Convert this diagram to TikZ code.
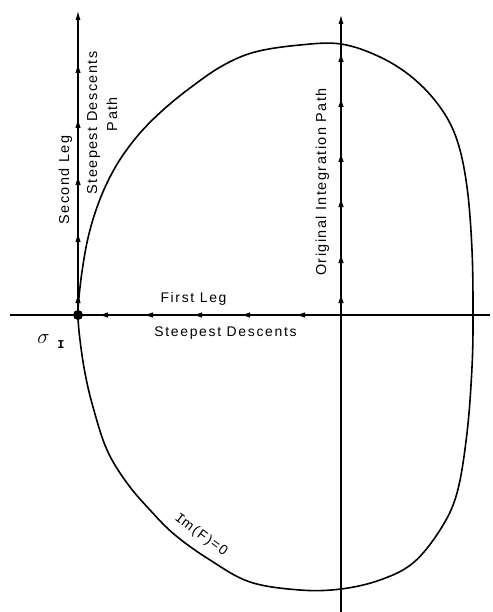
\documentclass[tikz,border=0pt]{standalone}
\usepackage{fontspec}
\setmainfont{Liberation Sans}
\newfontfamily\lbl[LetterSpace=12]{Liberation Sans}
\newfontfamily\lblv[LetterSpace=10]{Liberation Sans}
\newfontfamily\monoI{Liberation Mono}
\usetikzlibrary{arrows.meta}
\tikzset{
  ax/.style={line width=1.6bp, black},
  crv/.style={line width=1.6bp, black},
  lab/.style={inner sep=0pt, font=\lbl\fontsize{14}{16}\selectfont},
  labv/.style={inner sep=0pt, rotate=90, font=\lblv\fontsize{14.5}{16}\selectfont},
  dotnode/.style={circle, fill=black, inner sep=0pt, minimum size=10bp},
  endtip/.style={-{Latex[length=10bp,width=5bp]}},
  midtip/.style={line width=1.6bp, -{Latex[length=10bp,width=5.5bp]}},
}
\begin{document}
\begin{tikzpicture}[x=1bp,y=-1bp]
\useasboundingbox (0,0) rectangle (493,612);
% named points
\coordinate (sig) at (78,315);
\coordinate (O) at (341,315);
\coordinate (hL) at (10,315);
\coordinate (hR) at (490,315);
\coordinate (vB) at (341,612);
\coordinate (vT) at (341,14);
\coordinate (lT) at (78,10);
% Im(F)=0 curve
\draw[crv] plot[smooth cycle, tension=0.6] coordinates {
 (78,315) (79.5,292) (83,265) (88,238) (96,210) (107,183) (121,158) (140,133)
 (163,110) (190,88) (222,66) (255,52) (300,45) (341,44) (380,57) (413,78)
 (440,107) (457,140) (467,187) (472,250) (473,315) (472,367) (467,433)
 (457,493) (440,530) (413,563) (380,580) (341,589) (300,590) (250,582)
 (210,560) (175,535) (150,510) (127,483) (107,450) (93,407) (85,373) (80,340)};
% axes
\draw[ax] (hL) -- (hR);
\draw[ax, endtip] (vB) -- (vT);
\draw[ax, endtip] (sig) -- (lT);
% arrowheads along the original integration path
\foreach \y in {293,253,197,152,97,52}
  \draw[midtip] (341,\y+14) -- (341,\y);
% arrowheads along the second leg
\foreach \y in {293,232,175,118,63}
  \draw[midtip] (78,\y+14) -- (78,\y);
% arrowheads along the first leg
\foreach \x in {295,240,192,143,98}
  \draw[midtip] (\x+14,315) -- (\x,315);
% saddle point
\node[dotnode] (sigdot) at (sig) {};
\node[anchor=base, inner sep=0pt] (sgm) at (43.5,343) {\fontsize{22}{22}\selectfont$\sigma$};
\node[anchor=base, inner sep=0pt] (sgI) at (61,348) {\monoI\bfseries\fontsize{12}{12}\selectfont I};
% labels
\node[labv] (second) at (65.5,180) {Second Leg};
\node[labv] (sdp1) at (93.5,123) {Steepest Descents};
\node[labv] (sdp2) at (112,114) {Path};
\node[labv] (oip) at (322.5,182) {Original Integration Path};
\node[lab] (first) at (193.5,299) {First Leg};
\node[lab] (sd) at (225.5,333) {Steepest Descents};
\node[lab, rotate=-37] (imf) at (201,535) {{\monoI I}m(F)=0};
\end{tikzpicture}
\end{document}
